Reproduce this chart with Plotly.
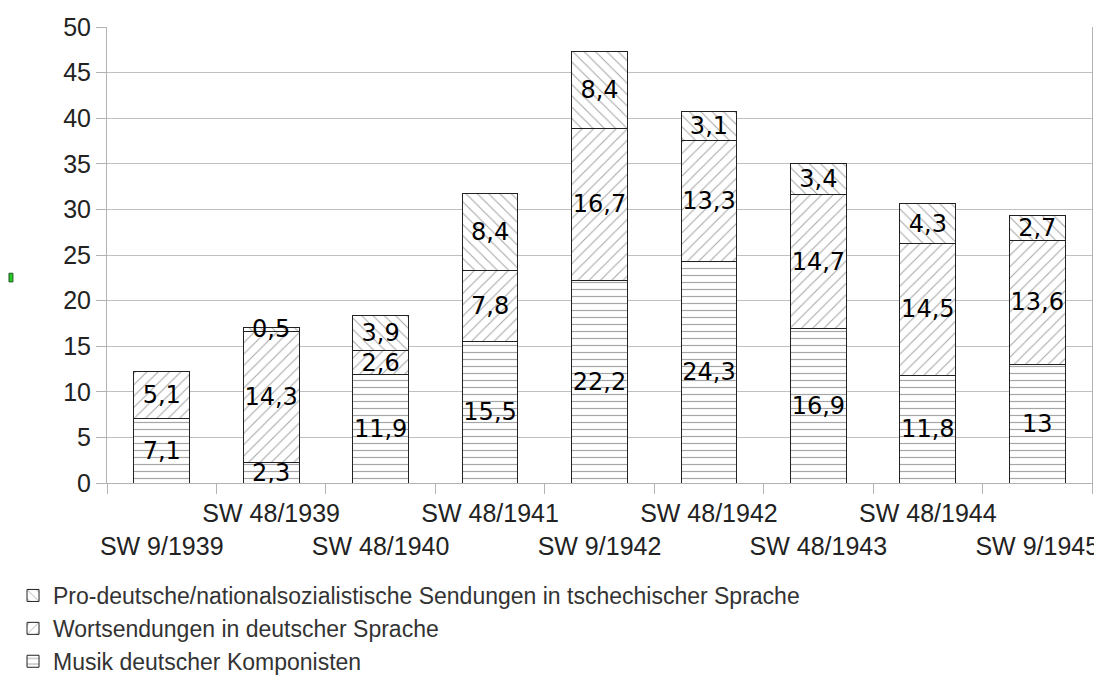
import plotly.graph_objects as go

categories = ["SW 9/1939", "SW 48/1939", "SW 48/1940", "SW 48/1941", "SW 9/1942",
              "SW 48/1942", "SW 48/1943", "SW 48/1944", "SW 9/1945"]
musik = [7.1, 2.3, 11.9, 15.5, 22.2, 24.3, 16.9, 11.8, 13]
wort = [5.1, 14.3, 2.6, 7.8, 16.7, 13.3, 14.7, 14.5, 13.6]
pro = [None, 0.5, 3.9, 8.4, 8.4, 3.1, 3.4, 4.3, 2.7]

series_names = ["Musik deutscher Komponisten",
                "Wortsendungen in deutscher Sprache",
                "Pro-deutsche/nationalsozialistische Sendungen in tschechischer Sprache"]
y_ticks = [0, 5, 10, 15, 20, 25, 30, 35, 40, 45, 50]


def fmt(v):
    if v is None:
        return ""
    return f"{v:g}".replace(".", ",")


# staggered tick labels: even indices on the lower row
tick_text = [("<br>" + c) if i % 2 == 0 else c for i, c in enumerate(categories)]

label_font = dict(family="DejaVu Sans", size=24, color="#000000")
axis_font = dict(family="Liberation Sans", size=25, color="#222222")

fig = go.Figure()
specs = [
    (musik, series_names[0], "-", 7, 0.17),
    (wort, series_names[1], "/", 8, 0.13),
    (pro, series_names[2], "\\", 8, 0.13),
]
for vals, name, shape, size, sol in specs:
    fig.add_trace(go.Bar(
        x=categories, y=vals, name=name,
        text=[fmt(v) for v in vals],
        textposition="inside", insidetextanchor="middle",
        textangle=0, constraintext="none",
        textfont=label_font,
        marker=dict(color="#ffffff",
                    line=dict(color="#222222", width=1),
                    pattern=dict(shape=shape, fgcolor="#4d4d4d", bgcolor="#ffffff",
                                 size=size, solidity=sol, fillmode="overlay")),
        hoverinfo="skip",
    ))

# small green marker seen at the left edge of the original image
fig.add_shape(type="rect", xref="paper", yref="paper",
              x0=-0.0995, x1=-0.0955, y0=0.441, y1=0.460,
              fillcolor="#22cc22", line=dict(color="#225522", width=1))

fig.update_layout(
    width=1094, height=667, autosize=False,
    margin=dict(l=99, r=10, t=19, b=192, autoexpand=False),
    barmode="stack", bargap=0.49,
    paper_bgcolor="#ffffff", plot_bgcolor="#ffffff",
    showlegend=True,
    legend=dict(
        traceorder="reversed", orientation="v",
        xref="paper", yref="paper",
        x=-0.0954, xanchor="left", y=-0.4386, yanchor="bottom",
        font=dict(family="Liberation Sans", size=23, color="#333333"),
        bgcolor="rgba(0,0,0,0)", tracegroupgap=0,
    ),
    xaxis=dict(
        type="category", categoryorder="array", categoryarray=categories,
        tickmode="array", tickvals=categories, ticktext=tick_text,
        tickson="boundaries", ticks="outside", ticklen=10, tickcolor="#b3b3b3",
        tickangle=0, ticklabelstandoff=8, ticklabeloverflow="allow",
        showgrid=False, showline=True, linecolor="#b3b3b3", linewidth=1,
        tickfont=axis_font, fixedrange=True,
    ),
    yaxis=dict(
        range=[0, 50], tickmode="array", tickvals=y_ticks,
        showgrid=True, gridcolor="#c0c0c0", gridwidth=1,
        showline=True, linecolor="#b3b3b3", linewidth=1, mirror=True,
        zeroline=False, ticks="outside", ticklen=10, tickcolor="#b3b3b3",
        tickfont=axis_font, fixedrange=True,
    ),
)

fig.write_html("out.html")
